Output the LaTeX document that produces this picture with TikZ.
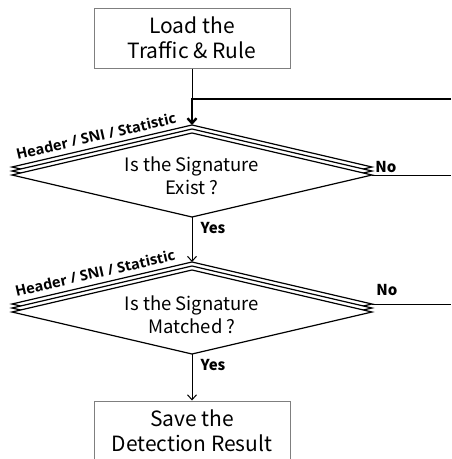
\documentclass[tikz,border=0pt]{standalone}
\usepackage{fontspec}
\setmainfont{Noto Sans CJK KR}
\newfontfamily\labfont{Open Sans}
\usetikzlibrary{arrows.meta}
\begin{document}
\begin{tikzpicture}[x=1pt,y=1pt,
  box/.style={draw=boxgray, line width=1pt, fill=white, minimum width=196pt, minimum height=60pt, align=center, font=\fontsize{21}{25}\selectfont, inner sep=0pt},
  lab/.style={font=\bfseries\fontsize{15}{17}\selectfont, inner sep=0pt},
  hlab/.style={font=\labfont\bfseries\fontsize{14.5}{16}\selectfont, inner sep=0pt},
  dtext/.style={align=center, font=\fontsize{18.5}{23}\selectfont, inner sep=0pt},
  dline/.style={draw=black, line width=1.2pt, fill=white, line join=miter},
  conn/.style={line width=1pt, -{Straight Barb[length=5pt,width=9pt]}},
  thickconn/.style={line width=2.4pt, -{Straight Barb[length=5pt,width=9pt]}},
  plain/.style={line width=1pt}]
\definecolor{boxgray}{HTML}{7F7F7F}
\useasboundingbox (0,0) rectangle (451,-459);

% boxes
\node[box] (load) at (192,-38) {Load the\\Traffic \& Rule};
\node[box] (save) at (192,-431) {Save the\\Detection Result};

% diamond 1
\foreach \o in {8,4,0}
  \filldraw[dline] (12,-175+\o) -- (192,-133+\o) -- (372,-175+\o) -- (192,-217+\o) -- cycle;
\coordinate (d1in) at (192,-125);
\coordinate (d1out) at (192,-217);
\coordinate (d1right) at (372,-175);
\node[dtext] (d1) at (192,-176) {Is the Signature\\Exist ?};
\node[hlab, rotate=13] (h1) at (96,-136) {Header / SNI / Statistic};

% diamond 2
\foreach \o in {8,4,0}
  \filldraw[dline] (12,-312+\o) -- (192,-270+\o) -- (372,-312+\o) -- (192,-354+\o) -- cycle;
\coordinate (d2in) at (192,-262);
\coordinate (d2out) at (192,-354);
\coordinate (d2right) at (372,-304);
\node[dtext] (d2) at (192,-315) {Is the Signature\\Matched ?};
\node[hlab, rotate=13] (h2) at (95,-273) {Header / SNI / Statistic};

% connectors
\coordinate (join) at (192,-99);
\coordinate (loopin) at (451,-99);
\coordinate (no1end) at (451,-175);
\coordinate (no2end) at (451,-304);
\draw[plain] (load.south) -- (join);
\draw[thickconn] (loopin) -- (join) -- (d1in);
\draw[conn] (d1out) -- (d2in);
\draw[conn] (d2out) -- (save.north);
\draw[plain] (d1right) -- (no1end);
\draw[plain] (d2right) -- (no2end);

% labels
\node[lab] (no1) at (386,-167) {No};
\node[lab] (no2) at (387,-290) {No};
\node[lab] (yes1) at (213,-228) {Yes};
\node[lab] (yes2) at (213,-365) {Yes};
\end{tikzpicture}
\end{document}
